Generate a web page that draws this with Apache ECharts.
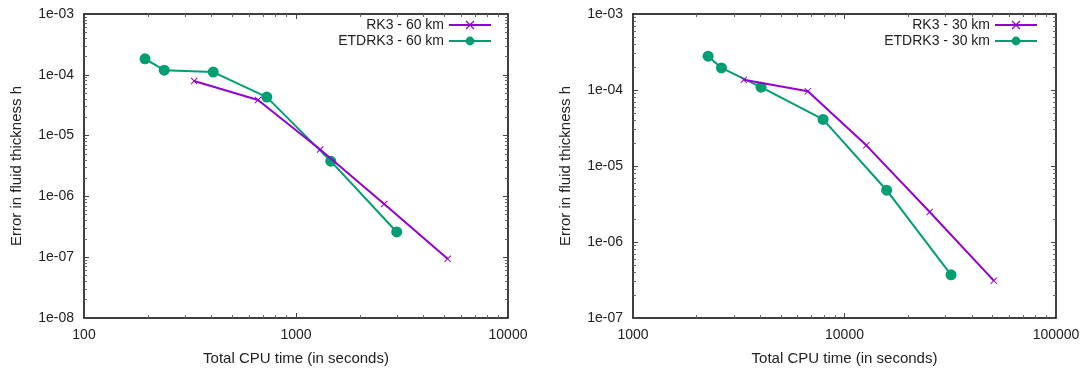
<!DOCTYPE html>
<html>
<head>
<meta charset="utf-8">
<script src="https://cdn.jsdelivr.net/npm/echarts@6/dist/echarts.min.js"></script>
<style>
  html, body { margin: 0; padding: 0; background: #fff; }
  #chart { width: 1084px; height: 371px; }
</style>
</head>
<body>
<div id="chart"></div>
<script>
// 60 km case: [cpu seconds, error]
const rk3_60 = [[331, 7.9e-5], [662, 3.85e-5], [1300, 5.9e-6], [2606, 7.5e-7], [5190, 9.4e-8]];
const etd_60 = [[194, 1.83e-4], [239, 1.19e-4], [407, 1.11e-4], [728, 4.3e-5], [1459, 3.8e-6], [2986, 2.6e-7]];
// 30 km case
const rk3_30 = [[3340, 1.36e-4], [6710, 9.6e-5], [12680, 1.87e-5], [25290, 2.48e-6], [50800, 3.1e-7]];
const etd_30 = [[2265, 2.79e-4], [2620, 1.95e-4], [4030, 1.09e-4], [7920, 4.1e-5], [15820, 4.8e-6], [31900, 3.7e-7]];

const xRange60 = [100, 10000];
const yRange60 = [1e-8, 1e-3];
const xRange30 = [1000, 100000];
const yRange30 = [1e-7, 1e-3];

const PURPLE = '#9400d3';
const GREEN = '#009e73';
const FONT = '"Liberation Sans", Arial, sans-serif';
const crossPath = 'path://M0,1L1,0L5,4L9,0L10,1L6,5L10,9L9,10L5,6L1,10L0,9L4,5Z';

function expFmt(v) {
  const e = Math.round(Math.log10(v));
  const s = e < 0 ? '-' : '+';
  return '1e' + s + String(Math.abs(e)).padStart(2, '0');
}

// 2..9 in each decade, like gnuplot's log minor tics
function minorVals(range) {
  const out = [];
  for (let d = range[0]; d < range[1] * 0.999; d *= 10) {
    for (let k = 2; k <= 9; k++) out.push(d * k);
  }
  return out;
}

function baseAx(grid, range, pos) {
  return {
    type: 'log', logBase: 10, gridIndex: grid, position: pos,
    min: range[0], max: range[1],
    splitLine: { show: false },
    minorTick: { show: false }
  };
}

function xAx(grid, range, pos, show) {
  return Object.assign(baseAx(grid, range, pos), {
    name: show ? 'Total CPU time (in seconds)' : '',
    nameLocation: 'middle', nameGap: 33,
    nameTextStyle: { fontFamily: FONT, fontSize: 15, color: '#222' },
    axisLine: { show: true, onZero: false, lineStyle: { color: '#000', width: 1.5 } },
    axisTick: { show: true, inside: true, length: 5, lineStyle: { color: '#444' } },
    axisLabel: { show: show, fontFamily: FONT, fontSize: 14, color: '#222', margin: 10, formatter: v => String(v) }
  });
}

function yAx(grid, range, pos, show) {
  return Object.assign(baseAx(grid, range, pos), {
    name: show ? 'Error in fluid thickness h' : '',
    nameLocation: 'middle', nameGap: 60,
    nameTextStyle: { fontFamily: FONT, fontSize: 15, color: '#222' },
    axisLine: { show: true, onZero: false, lineStyle: { color: '#000', width: 1.5 } },
    axisTick: { show: true, inside: true, length: 5, lineStyle: { color: '#444' } },
    axisLabel: { show: show, fontFamily: FONT, fontSize: 14, color: '#222', margin: 10, formatter: expFmt }
  });
}

function minorAx(grid, range, pos) {
  return Object.assign(baseAx(grid, range, pos), {
    axisLine: { show: false, onZero: false },
    axisTick: { show: true, inside: true, length: 3, customValues: minorVals(range), lineStyle: { color: '#666' } },
    axisLabel: { show: false }
  });
}

function rkSeries(name, data, xi, yi) {
  return {
    name: name, type: 'line', data: data, xAxisIndex: xi, yAxisIndex: yi,
    symbol: crossPath, symbolSize: 7, showAllSymbol: true,
    lineStyle: { color: PURPLE, width: 2 }, itemStyle: { color: PURPLE },
    emphasis: { disabled: true }, z: 3
  };
}

function etdSeries(name, data, xi, yi) {
  return {
    name: name, type: 'line', data: data, xAxisIndex: xi, yAxisIndex: yi,
    symbol: 'circle', symbolSize: 11, showAllSymbol: true,
    lineStyle: { color: GREEN, width: 2 }, itemStyle: { color: GREEN },
    emphasis: { disabled: true }, z: 2
  };
}

function legendFor(names, right) {
  return {
    data: names, orient: 'vertical', right: right, top: 18, align: 'right',
    padding: 0, itemWidth: 42, itemHeight: 11, itemGap: 2,
    textStyle: { fontFamily: FONT, fontSize: 14, color: '#222' },
    selectedMode: false
  };
}

const chart = echarts.init(document.getElementById('chart'), null, { renderer: 'canvas' });
chart.setOption({
  animation: false,
  backgroundColor: '#fff',
  grid: [
    { left: 84, right: 576, top: 14, bottom: 49 },
    { left: 633, right: 28, top: 14, bottom: 49 }
  ],
  xAxis: [
    xAx(0, xRange60, 'bottom', true),
    xAx(1, xRange30, 'bottom', true),
    xAx(0, xRange60, 'top', false),
    xAx(1, xRange30, 'top', false),
    minorAx(0, xRange60, 'bottom'),
    minorAx(1, xRange30, 'bottom'),
    minorAx(0, xRange60, 'top'),
    minorAx(1, xRange30, 'top')
  ],
  yAxis: [
    yAx(0, yRange60, 'left', true),
    yAx(1, yRange30, 'left', true),
    yAx(0, yRange60, 'right', false),
    yAx(1, yRange30, 'right', false),
    minorAx(0, yRange60, 'left'),
    minorAx(1, yRange30, 'left'),
    minorAx(0, yRange60, 'right'),
    minorAx(1, yRange30, 'right')
  ],
  legend: [
    legendFor(['RK3 - 60 km', 'ETDRK3 - 60 km'], 592),
    legendFor(['RK3 - 30 km', 'ETDRK3 - 30 km'], 46)
  ],
  series: [
    rkSeries('RK3 - 60 km', rk3_60, 0, 0),
    etdSeries('ETDRK3 - 60 km', etd_60, 0, 0),
    rkSeries('RK3 - 30 km', rk3_30, 1, 1),
    etdSeries('ETDRK3 - 30 km', etd_30, 1, 1)
  ]
});
</script>
</body>
</html>
